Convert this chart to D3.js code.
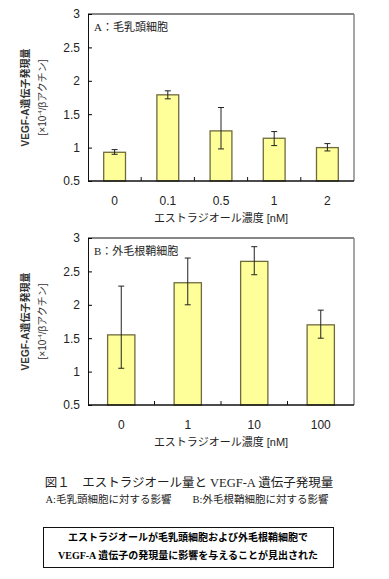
<!DOCTYPE html>
<html>
<head>
<meta charset="utf-8">
<script src="https://cdn.jsdelivr.net/npm/d3@7"></script>
<style>
  body { margin: 0; background: #fff; }
  svg { display: block; }
</style>
</head>
<body>
<svg width="389" height="579"></svg>
<script>
// パネルA : 毛乳頭細胞
const catsA = ["0", "0.1", "0.5", "1", "2"];
const valsA = [0.93, 1.79, 1.25, 1.14, 1.00];
const lowA  = [0.90, 1.73, 0.98, 1.03, 0.95];
const highA = [0.97, 1.85, 1.60, 1.24, 1.06];

// パネルB : 外毛根鞘細胞
const catsB = ["0", "1", "10", "100"];
const valsB = [1.55, 2.33, 2.65, 1.70];
const lowB  = [1.05, 2.00, 2.45, 1.50];
const highB = [2.28, 2.70, 2.87, 1.92];

const yTicks = [0.5, 1, 1.5, 2, 2.5, 3];

const svg = d3.select("svg");
const jp = "'Liberation Sans', 'Noto Sans CJK JP', sans-serif";
const serif = "'Liberation Serif', 'Noto Sans CJK JP', serif";

function panel(top, label, cats, vals, low, high) {
    const left = 88, right = 354, h = 167;
    const x = d3.scaleBand().domain(cats).range([left, right]).paddingInner(0.59).paddingOuter(0.295);
    const y = d3.scaleLinear().domain([0.5, 3]).range([top + h, top]);
    const g = svg.append("g");

    // bars
    g.selectAll("rect.bar")
        .data(vals)
        .enter()
        .append("rect")
        .attr("x", (d, i) => x(cats[i]))
        .attr("y", d => y(d))
        .attr("width", x.bandwidth())
        .attr("height", d => y(0.5) - y(d))
        .style("fill", "#ffff99")
        .style("stroke", "#6f6a3e")
        .style("stroke-width", 1.3);

    // error bars
    const cx = i => x(cats[i]) + x.bandwidth() / 2;
    vals.forEach((d, i) => {
        g.append("line").attr("x1", cx(i)).attr("x2", cx(i))
            .attr("y1", y(low[i])).attr("y2", y(high[i]))
            .style("stroke", "#222").style("stroke-width", 1);
        [low[i], high[i]].forEach(v => {
            g.append("line").attr("x1", cx(i) - 3).attr("x2", cx(i) + 3)
                .attr("y1", y(v)).attr("y2", y(v))
                .style("stroke", "#222").style("stroke-width", 1);
        });
    });

    // frame
    g.append("line").attr("x1", left).attr("x2", right).attr("y1", top).attr("y2", top)
        .style("stroke", "#111").style("stroke-width", 1);
    g.append("line").attr("x1", right).attr("x2", right).attr("y1", top).attr("y2", top + h)
        .style("stroke", "#888").style("stroke-width", 1.5);

    // y axis (inner ticks)
    const ya = g.append("g")
        .attr("transform", "translate(" + left + ",0)")
        .call(d3.axisLeft(y).tickValues(yTicks).tickSize(-4).tickPadding(8).tickFormat(d3.format("")));
    ya.select(".domain").style("stroke", "#111");
    ya.selectAll("text").style("font-family", jp).style("font-size", "12px").style("fill", "#222");

    // x axis : ticks between categories
    g.append("line").attr("x1", left).attr("x2", right).attr("y1", y(0.5)).attr("y2", y(0.5))
        .style("stroke", "#111").style("stroke-width", 1.3);
    const step = x.step();
    cats.slice(1).forEach((c, i) => {
        const tx = x(c) - (step - x.bandwidth()) / 2;
        g.append("line").attr("x1", tx).attr("x2", tx).attr("y1", y(0.5)).attr("y2", y(0.5) - 4)
            .style("stroke", "#111");
    });
    g.selectAll("text.xl")
        .data(cats)
        .enter()
        .append("text")
        .attr("x", d => x(d) + x.bandwidth() / 2)
        .attr("y", top + h + 24)
        .attr("text-anchor", "middle")
        .style("font-family", jp).style("font-size", "12px").style("fill", "#222")
        .text(d => d);

    g.append("text")
        .attr("x", 221).attr("y", top + h + 41)
        .attr("text-anchor", "middle")
        .style("font-family", jp).style("font-size", "11px").style("fill", "#222")
        .text("エストラジオール濃度 [nM]");

    // panel label
    g.append("text")
        .attr("x", 94).attr("y", top + 17)
        .style("font-family", serif).style("font-size", "11px").style("fill", "#222")
        .text(label);

    // y title
    const cy = top + h / 2;
    g.append("text")
        .attr("transform", "translate(29," + cy + ")rotate(-90)")
        .attr("text-anchor", "middle")
        .style("font-family", jp).style("font-size", "10px").style("font-weight", "bold").style("fill", "#333")
        .text("VEGF-A遺伝子発現量");
    const t2 = g.append("text")
        .attr("transform", "translate(46," + cy + ")rotate(-90)")
        .attr("text-anchor", "middle")
        .style("font-family", jp).style("font-size", "10px").style("fill", "#333");
    t2.append("tspan").text("[×10");
    t2.append("tspan").attr("dy", -4).style("font-size", "6px").text("-4");
    t2.append("tspan").attr("dy", 4).text("/βアクチン]");
}

panel(14, "A：毛乳頭細胞", catsA, valsA, lowA, highA);
panel(238, "B：外毛根鞘細胞", catsB, valsB, lowB, highB);

// caption
svg.append("text")
    .attr("x", 189).attr("y", 487)
    .attr("text-anchor", "middle")
    .style("font-family", serif).style("font-size", "12.5px").style("fill", "#222")
    .text("図１　エストラジオール量と VEGF-A 遺伝子発現量");
svg.append("text")
    .attr("x", 187).attr("y", 503)
    .attr("text-anchor", "middle")
    .style("font-family", serif).style("font-size", "10.5px").style("fill", "#222")
    .text("A:毛乳頭細胞に対する影響　　B:外毛根鞘細胞に対する影響");

// conclusion box
svg.append("rect")
    .attr("x", 43.5).attr("y", 527.5).attr("width", 290).attr("height", 40)
    .style("fill", "none").style("stroke", "#111").style("stroke-width", 1);
svg.append("text")
    .attr("x", 188).attr("y", 541)
    .attr("text-anchor", "middle")
    .style("font-family", serif).style("font-size", "10px").style("font-weight", "bold").style("fill", "#000")
    .text("エストラジオールが毛乳頭細胞および外毛根鞘細胞で");
svg.append("text")
    .attr("x", 188).attr("y", 559)
    .attr("text-anchor", "middle")
    .style("font-family", serif).style("font-size", "10px").style("font-weight", "bold").style("fill", "#000")
    .text("VEGF-A 遺伝子の発現量に影響を与えることが見出された");
</script>
</body>
</html>
